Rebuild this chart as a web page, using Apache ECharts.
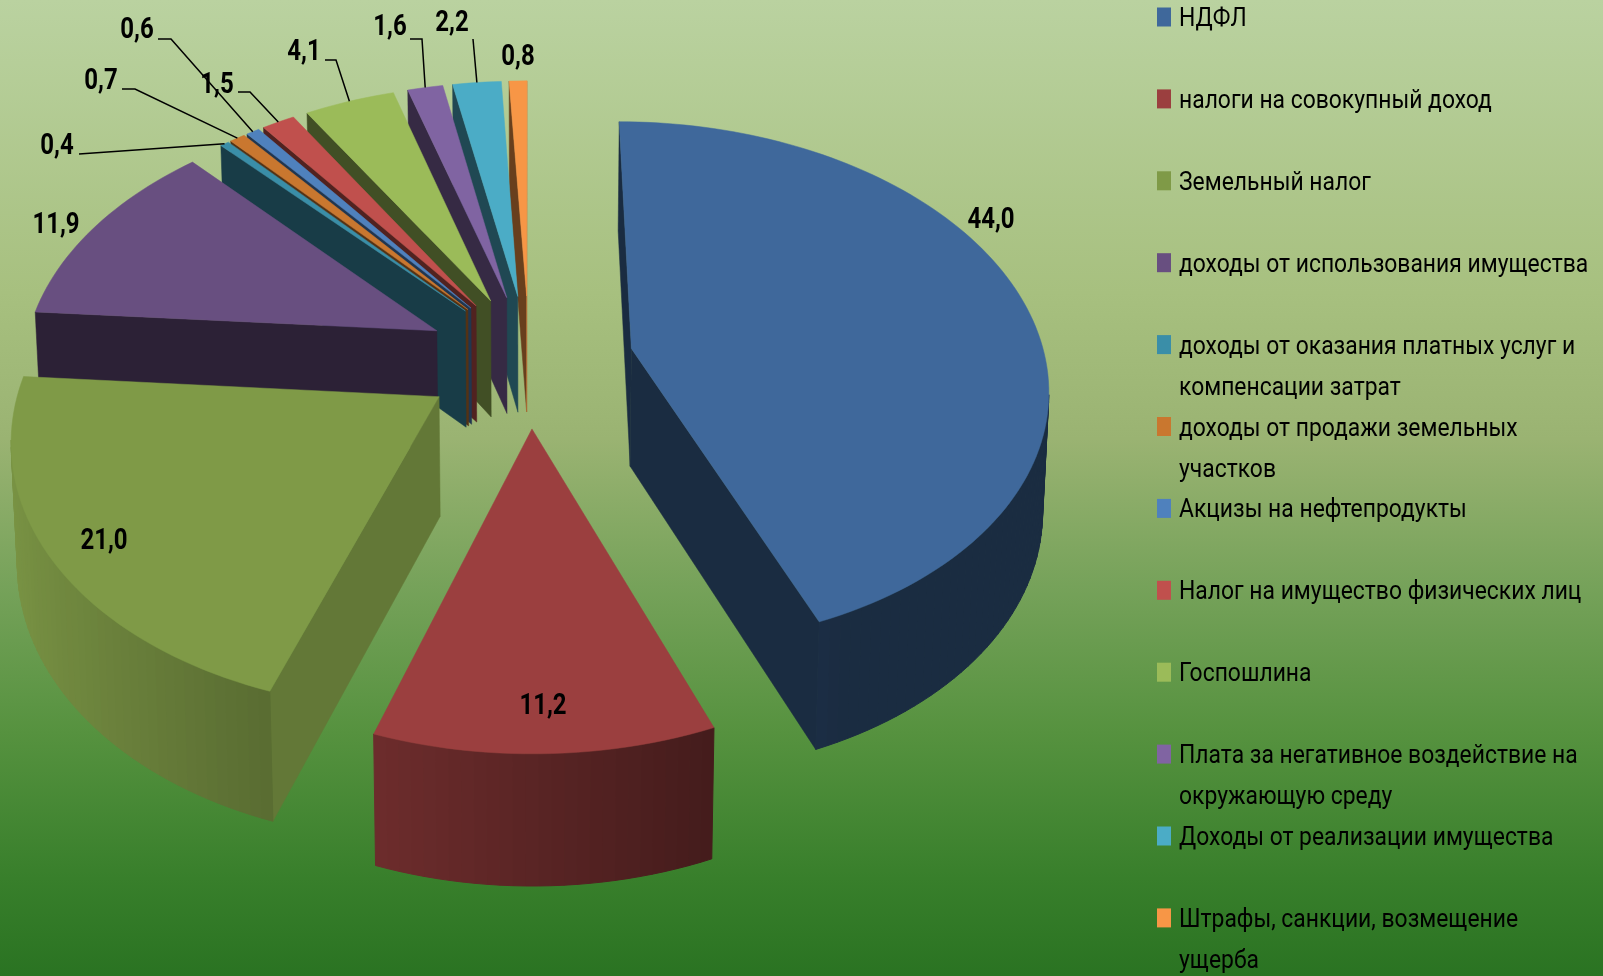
<!DOCTYPE html>
<html>
<head>
<meta charset="utf-8">
<title>Структура доходов</title>
<script src="https://cdn.jsdelivr.net/npm/echarts@6/dist/echarts.min.js"></script>
<style>
  html, body { margin: 0; padding: 0; }
  #pie { width: 1603px; height: 976px; }
</style>
</head>
<body>
<div id="pie"></div>
<script>
// данные
const names = [
  'НДФЛ',
  'налоги на совокупный доход',
  'Земельный налог',
  'доходы от использования имущества',
  'доходы от оказания платных услуг и\nкомпенсации затрат',
  'доходы от продажи земельных\nучастков',
  'Акцизы на нефтепродукты',
  'Налог на имущество физических лиц',
  'Госпошлина',
  'Плата за негативное воздействие на\nокружающую среду',
  'Доходы от реализации имущества',
  'Штрафы, санкции, возмещение\nущерба'
]
const values = [44.0, 11.2, 21.0, 11.9, 0.4, 0.7, 0.6, 1.5, 4.1, 1.6, 2.2, 0.8]
const colors = ['#3f689b', '#9b3f3f', '#7f9a47', '#684f80', '#3a8ea8', '#c9772f',
  '#4f81bd', '#c0504d', '#9bbb59', '#8064a2', '#4bacc6', '#f79646']
// вынос секторов и поворот направления выноса
const explode = [0.25, 0.275, 0.265, 0.245, 0.235, 0.235, 0.235, 0.235, 0.235, 0.235, 0.235, 0.235]
const explodeTurn = [5, 0, -3, -3, 0, 0, 0, 0, 0, 0, 0, 0]

// подписи и выноски
const labelPos = [[991, 220], [543, 706], [104, 541], [56, 225], [57, 146], [101, 81],
  [137, 30], [217, 85], [304, 52], [390, 27], [452, 23], [518, 57]]
const leaders = [null, null, null, null,
  [[79, 154]],
  [[122, 89], [135, 89]],
  [[158, 39], [171, 39]],
  [[238, 92], [250, 92]],
  [[325, 60], [336, 60]],
  [[410, 39], [422, 39]],
  [[473, 39]],
  null]

// перспектива
const cx = 529, cy = 355, radiusX = 413, radiusY = 259, depth = 118, persp = 0.135

const total = values.reduce((a, b) => a + b, 0)
const angles = []
let acc = 0
values.forEach(v => {
  angles.push([acc / total * 360, (acc + v) / total * 360])
  acc += v
})

function rad(d) { return d * Math.PI / 180 }

function ground(i, a, r) {
  const m = rad((angles[i][0] + angles[i][1]) / 2 + explodeTurn[i])
  return [explode[i] * Math.sin(m) + r * Math.sin(rad(a)),
    -explode[i] * Math.cos(m) - r * Math.cos(rad(a))]
}

function project(p, z) {
  const s = 1 / (1 - persp * p[1])
  const shrink = 1 - 0.012 * z
  return [cx + radiusX * p[0] * s * shrink, cy + radiusY * p[1] * s + depth * z * Math.pow(s, 0.6)]
}

function facing(p, n) {
  return n[0] * (0 - p[0]) + n[1] * (1 / persp - p[1]) > 0
}

function shade(hex, f) {
  const c = echarts.color.parse(hex)
  return 'rgb(' + Math.round(c[0] * f) + ',' + Math.round(c[1] * f) + ',' + Math.round(c[2] * f) + ')'
}

function poly(points, fill, lw) {
  return {
    type: 'polygon',
    shape: { points: points },
    style: { fill: fill, stroke: fill, lineWidth: lw }
  }
}

function radialWall(i, a, n) {
  const o = ground(i, a, 0), e = ground(i, a, 1)
  if (!facing(o, n)) return null
  const f = n[0] > 0 ? 0.78 : 0.42
  return poly([project(o, 0), project(e, 0), project(e, 1), project(o, 1)], shade(colors[i], f), 0.5)
}

function renderSlice(params, api) {
  const i = params.seriesIndex
  const a0 = angles[i][0], a1 = angles[i][1]
  const steps = Math.max(2, Math.ceil((a1 - a0) / 1.5))
  const children = []

  // боковые грани
  let w = radialWall(i, a0, [-Math.cos(rad(a0)), -Math.sin(rad(a0))])
  if (w) children.push(w)
  w = radialWall(i, a1, [Math.cos(rad(a1)), Math.sin(rad(a1))])
  if (w) children.push(w)

  // внешняя стенка
  const top = [project(ground(i, a0, 0), 0)]
  for (let s = 0; s <= steps; s++) {
    const a = a0 + (a1 - a0) * s / steps
    const p = ground(i, a, 1)
    top.push(project(p, 0))
    if (s < steps) {
      const b = a + (a1 - a0) / steps
      const am = (a + b) / 2
      const q = ground(i, b, 1)
      if (facing(p, [Math.sin(rad(am)), -Math.cos(rad(am))])) {
        const f = Math.min(1, Math.max(0.42, 0.58 - 0.38 * Math.sin(rad(am))))
        children.push(poly([project(p, 0), project(q, 0), project(q, 1), project(p, 1)], shade(colors[i], f), 1))
      }
    }
  }
  // верхняя грань
  children.push(poly(top, colors[i], 0.5))
  return { type: 'group', children: children }
}

function renderLabel(params, api) {
  const i = params.dataIndex
  const children = []
  if (leaders[i]) {
    const mid = (angles[i][0] + angles[i][1]) / 2
    children.push({
      type: 'polyline',
      shape: { points: leaders[i].concat([project(ground(i, mid, 1), 0)]) },
      style: { stroke: '#000', lineWidth: 1.5, fill: null }
    })
  }
  children.push({
    type: 'text',
    x: labelPos[i][0],
    y: labelPos[i][1],
    scaleX: 0.8,
    style: {
      text: api.value(0).toFixed(1).replace('.', ','),
      x: 0, y: 0,
      textAlign: 'center', textVerticalAlign: 'middle',
      font: 'bold 30px Roboto', fill: '#000'
    }
  })
  return { type: 'group', children: children }
}

// дальние секторы рисуем первыми
const depthOrder = values.map((v, i) => i).sort((p, q) => {
  const mp = (angles[p][0] + angles[p][1]) / 2, mq = (angles[q][0] + angles[q][1]) / 2
  return Math.cos(rad(mq)) - Math.cos(rad(mp))
})

const series = names.map((n, i) => ({
  name: n,
  type: 'custom',
  coordinateSystem: 'none',
  renderItem: renderSlice,
  silent: true,
  z: 2 + depthOrder.indexOf(i),
  itemStyle: { color: colors[i] },
  data: [values[i]]
}))
series.push({
  type: 'custom',
  coordinateSystem: 'none',
  renderItem: renderLabel,
  silent: true,
  z: 30,
  data: values
})

const legendStep = 81.9, legendLeft = 1157, legendTextLeft = 1179, legendFirstY = 17.5

// значки легенды, подписи ниже отдельно: шрифт надо сжать по ширине
const legends = names.map((n, i) => ({
  data: [n],
  left: legendLeft,
  top: legendFirstY - 10 + i * legendStep,
  padding: 0,
  icon: 'rect',
  itemWidth: 14,
  itemHeight: 19,
  itemGap: 0,
  selectedMode: false,
  formatter: () => ' ',
  textStyle: { fontSize: 12 }
}))

function legendLine(text, y) {
  return {
    type: 'text',
    x: legendTextLeft,
    y: y,
    scaleX: 0.88,
    style: {
      text: text, x: 0, y: 0,
      textAlign: 'left', textVerticalAlign: 'middle',
      font: '26px Roboto', fill: '#000'
    }
  }
}

const legendTexts = []
names.forEach((n, i) => {
  const y = legendFirstY + 2 + i * legendStep
  n.split('\n').forEach((line, k) => {
    legendTexts.push(legendLine(line, y + k * 41))
  })
})

const chart = echarts.init(document.getElementById('pie'), null, { renderer: 'canvas' })
chart.setOption({
  animation: false,
  backgroundColor: {
    type: 'linear', x: 0, y: 0, x2: 0, y2: 1,
    colorStops: [
      { offset: 0, color: '#bad2a0' },
      { offset: 0.3, color: '#a7c07f' },
      { offset: 0.45, color: '#9ab372' },
      { offset: 0.6, color: '#76a25a' },
      { offset: 0.75, color: '#56923f' },
      { offset: 0.9, color: '#387f2b' },
      { offset: 1, color: '#2a7322' }
    ]
  },
  legend: legends,
  graphic: legendTexts,
  series: series
})
</script>
</body>
</html>
